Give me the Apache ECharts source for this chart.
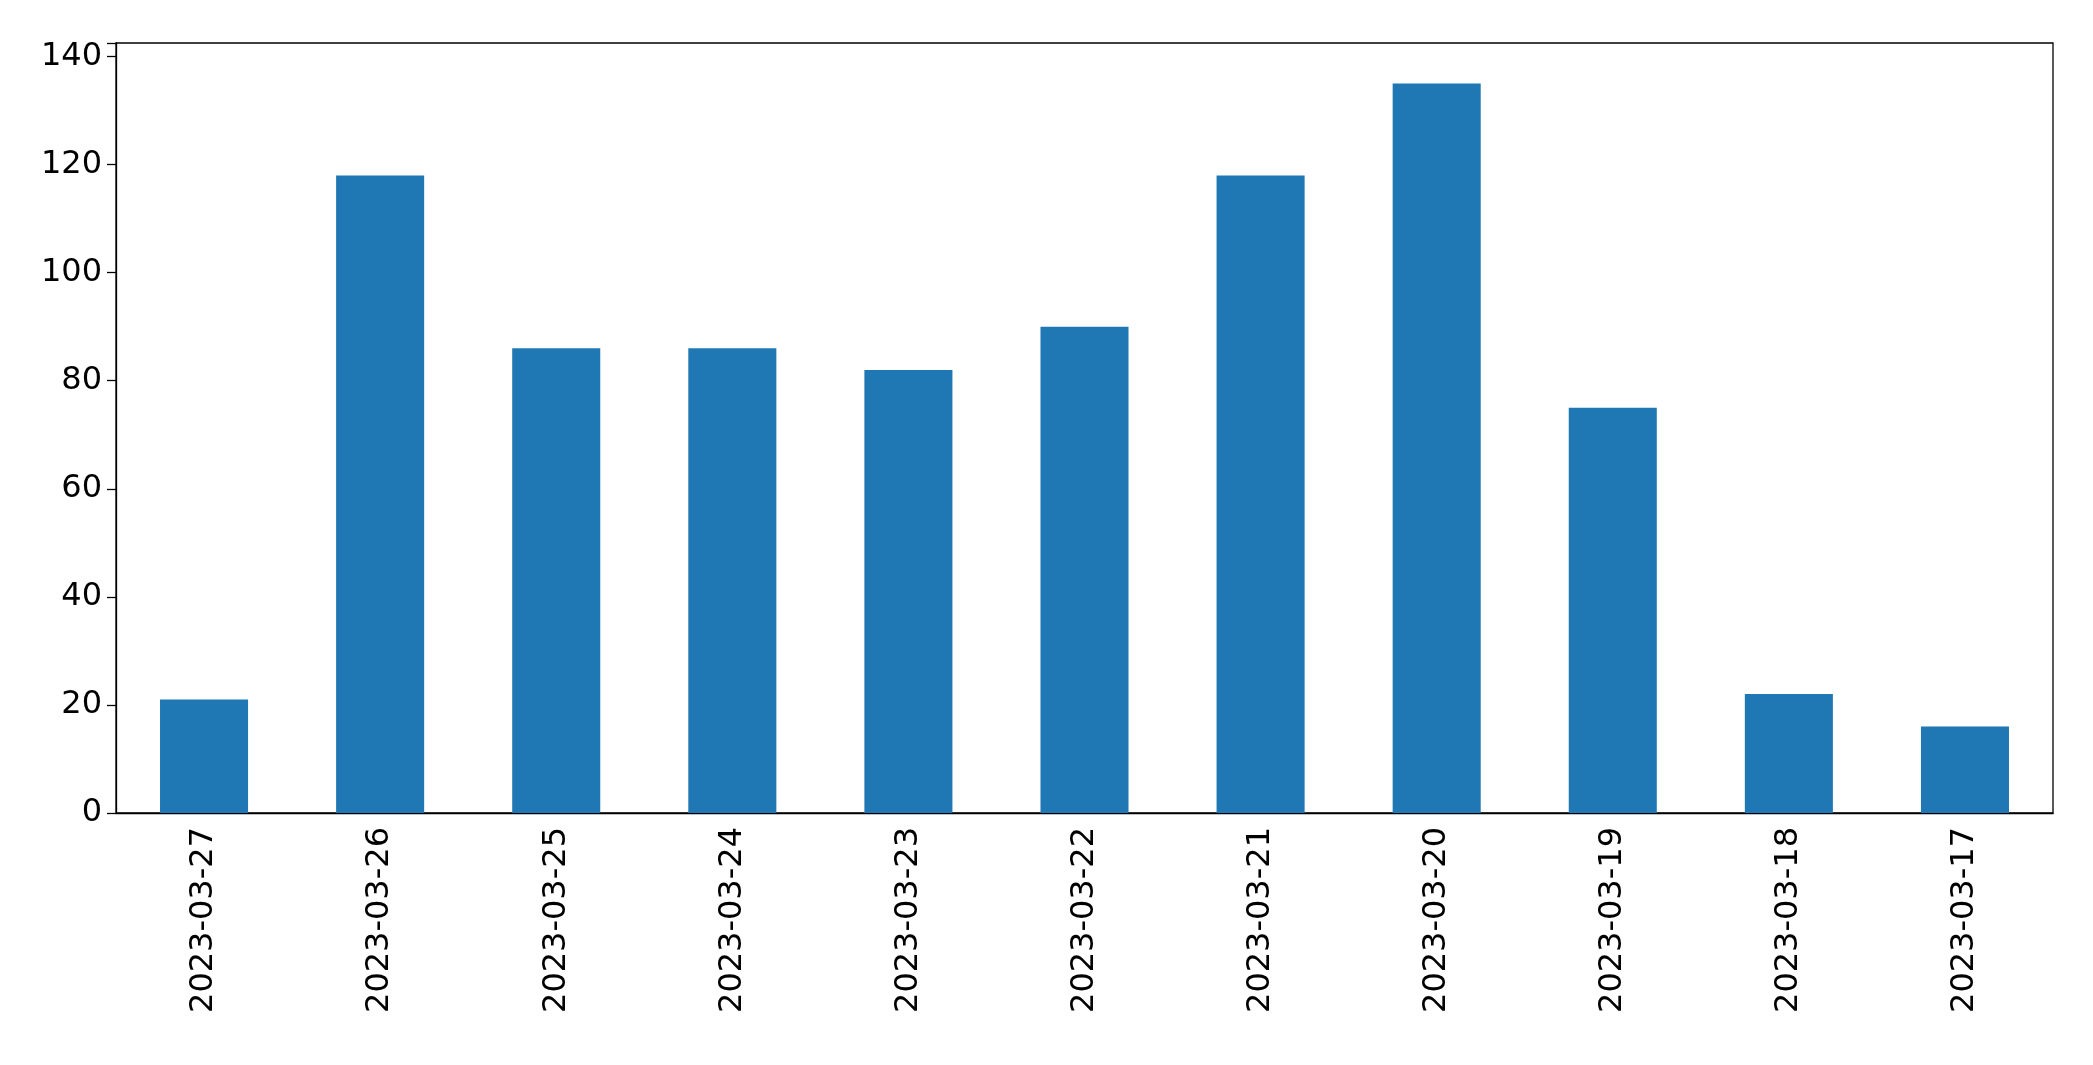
<!DOCTYPE html>
<html><head><meta charset="utf-8">
<script src="https://cdn.jsdelivr.net/npm/echarts@6/dist/echarts.min.js"></script>
<style>html,body{margin:0;padding:0;background:#fff}#c{width:2093px;height:1065px}</style>
</head><body><div id="c"></div>
<script>
const categories = ["2023-03-27","2023-03-26","2023-03-25","2023-03-24","2023-03-23","2023-03-22","2023-03-21","2023-03-20","2023-03-19","2023-03-18","2023-03-17"];
const values = [21,118,86,86,82,90,118,135,75,22,16];
const chart = echarts.init(document.getElementById('c'));
chart.setOption({
  animation:false,
  grid:{left:116,right:40,top:43,bottom:252,containLabel:false},
  xAxis:{type:'category',data:categories,
    axisLine:{lineStyle:{color:'#000',width:1.3}},
    axisTick:{alignWithLabel:true,length:9,lineStyle:{color:'#000',width:1.3}},
    axisLabel:{rotate:90,fontSize:32,color:'#000',fontFamily:'DejaVu Sans',margin:14,interval:0}},
  yAxis:{type:'value',min:0,max:142.5,interval:20,
    axisLine:{show:true,lineStyle:{color:'#000',width:1.3}},
    axisTick:{show:true,length:9,lineStyle:{color:'#000',width:1.3}},
    splitLine:{show:false},
    axisLabel:{fontSize:32,color:'#000',fontFamily:'DejaVu Sans',margin:14,
      formatter:v=>v%20===0?v:''}},
  series:[{type:'bar',data:values,barWidth:'50%',itemStyle:{color:'#1f77b4'}},
    {type:'line',data:[],markLine:{}}],
  graphic:[{type:'rect',shape:{x:116,y:43,width:2093-116-40,height:1065-43-252},style:{fill:'none',stroke:'#000',lineWidth:1.3},silent:true}]
});
</script></body></html>
